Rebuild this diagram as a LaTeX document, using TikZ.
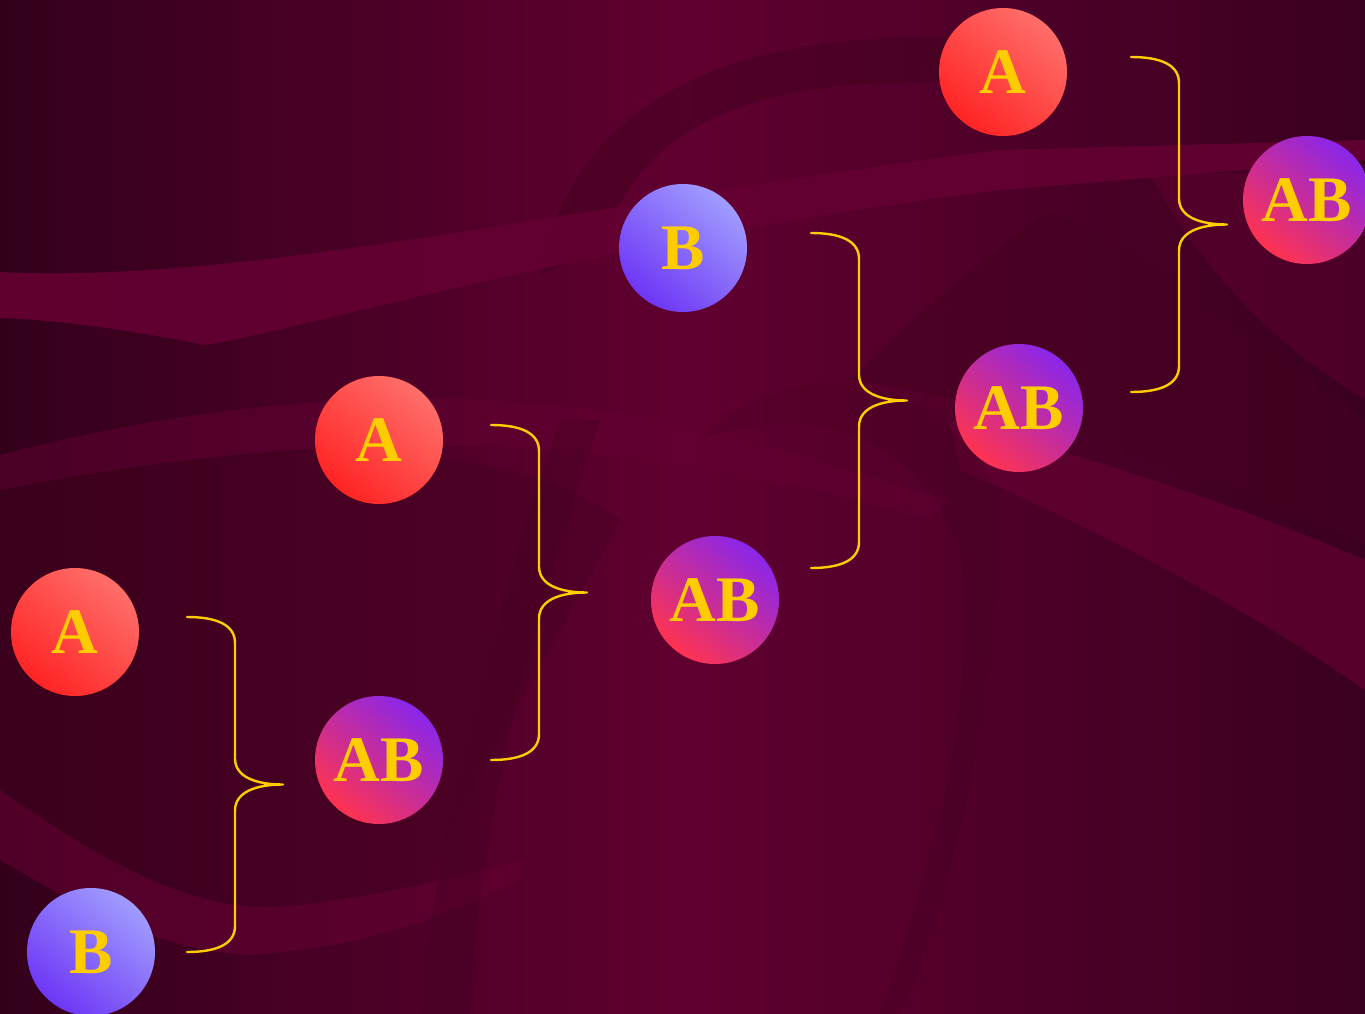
\documentclass[tikz,border=0pt]{standalone}
\usepackage{fontspec}
\setmainfont{Liberation Serif}
\usetikzlibrary{calc}
\definecolor{bgdark}{HTML}{33001A}
\definecolor{bgmid}{HTML}{600030}
\definecolor{bgright}{HTML}{3A001F}
\definecolor{bandlight}{HTML}{640032}
\definecolor{banddark}{HTML}{45001F}
\definecolor{gold}{HTML}{FFCC00}
\definecolor{aLight}{HTML}{FF6E6A}
\definecolor{aDark}{HTML}{FF2424}
\definecolor{bLight}{HTML}{A09CFF}
\definecolor{bDark}{HTML}{6E36F5}
\definecolor{abTop}{HTML}{8A26EA}
\definecolor{abBot}{HTML}{FF3350}
\tikzset{
  ball/.style={circle, minimum size=128pt, inner sep=0pt, text=gold,
    font=\bfseries\fontsize{65}{65}\selectfont},
  aball/.style={ball, bottom color=aDark, top color=aLight, shading angle=-40},
  bball/.style={ball, bottom color=bDark, top color=bLight, shading angle=-40},
  abball/.style={ball, bottom color=abBot, top color=abTop, shading angle=-40},
  bracestyle/.style={draw=gold, line width=2.4pt, line cap=round, line join=round},
  lightband/.style={fill=bandlight, opacity=0.9},
  darkband/.style={fill=banddark, opacity=0.55}
}
\begin{document}
\begin{tikzpicture}[x=1pt,y=-1pt]
\useasboundingbox (0,0) rectangle (1365,1014);
% background
\shade[left color=bgdark, right color=bgright, middle color=bgmid] (0,0) rectangle (1365,1014);
% ribbons
\fill[darkband] (540,275) .. controls (570,120) and (700,20) .. (1000,40)
   -- (1000,85) .. controls (760,70) and (640,120) .. (600,250) -- cycle;
\fill[lightband] (0,272) .. controls (250,285) and (600,200) .. (1000,150)
   -- (1365,140) -- (1365,160) -- (1000,190) .. controls (600,240) and (300,330) .. (205,345)
   .. controls (130,330) and (60,320) .. (0,318) -- cycle;
% dark left-lower area
\fill[darkband, opacity=0.4] (0,490) .. controls (250,440) and (500,430) .. (620,520)
   .. controls (560,640) and (480,760) .. (430,880)
   .. controls (330,930) and (150,900) .. (0,800) -- cycle;
\fill[lightband, opacity=0.5] (0,455) .. controls (250,390) and (500,380) .. (700,430)
   .. controls (800,455) and (880,480) .. (950,500) -- (930,520)
   .. controls (860,500) and (780,480) .. (700,470)
   .. controls (500,430) and (250,440) .. (0,490) -- cycle;
\fill[lightband, opacity=0.6] (0,790) .. controls (100,860) and (200,920) .. (300,905)
   .. controls (380,895) and (450,880) .. (520,860) -- (520,880)
   .. controls (420,930) and (330,950) .. (250,955) .. controls (150,950) and (70,900) .. (0,860) -- cycle;
% right diagonal bands
\fill[darkband, opacity=0.5] (850,380) .. controls (1000,400) and (1200,470) .. (1365,545)
   -- (1365,420) .. controls (1250,330) and (1150,260) .. (1050,210)
   .. controls (980,260) and (900,330) .. (850,380) -- cycle;
\fill[lightband, opacity=0.7] (950,420) .. controls (1100,460) and (1250,510) .. (1365,560)
   -- (1365,690) .. controls (1250,610) and (1100,530) .. (960,470) -- cycle;
\fill[lightband, opacity=0.45] (1150,175) .. controls (1250,170) and (1320,175) .. (1365,180)
   -- (1365,400) .. controls (1300,360) and (1220,300) .. (1150,175) -- cycle;
\fill[darkband, opacity=0.35] (420,1014) .. controls (440,800) and (500,600) .. (560,420)
   -- (600,420) .. controls (540,600) and (480,800) .. (470,1014) -- cycle;
\fill[darkband, opacity=0.25] (700,440) .. controls (800,340) and (950,380) .. (1000,500)
   .. controls (1000,700) and (950,900) .. (900,1014) -- (880,1014)
   .. controls (930,880) and (980,700) .. (960,550) .. controls (920,430) and (800,400) .. (700,440) -- cycle;

% nodes
\node[aball]  (a1)  at (75,632)  {A};
\node[bball]  (b1)  at (91,952)  {B};
\node[abball] (ab1) at (379,760) {AB};
\node[aball]  (a2)  at (379,440) {A};
\node[abball] (ab2) at (715,600) {AB};
\node[bball]  (b2)  at (683,248) {B};
\node[abball] (ab3) at (1019,408) {AB};
\node[aball]  (a3)  at (1003,72) {A};
\node[abball] (ab4) at (1307,200) {AB};

% braces: named end coordinates
\foreach \n/\x/\yt in {1/187/617, 2/491/425, 3/811/233, 4/1131/57}{
  \pgfmathsetmacro{\yb}{\yt+335}
  \pgfmathsetmacro{\ym}{\yt+167.5}
  \pgfmathsetmacro{\xv}{\x+48}
  \pgfmathsetmacro{\xt}{\x+96}
  \coordinate (br\n t) at (\x,\yt);
  \coordinate (br\n b) at (\x,\yb);
  \coordinate (br\n m) at (\xt,\ym);
  \draw[bracestyle] (br\n t) .. controls (\x+30,\yt) and (\xv,\yt+8) .. (\xv,\yt+26)
    -- (\xv,\ym-26) .. controls (\xv,\ym-8) and (\xv+20,\ym) .. (br\n m)
    .. controls (\xv+20,\ym) and (\xv,\ym+8) .. (\xv,\ym+26)
    -- (\xv,\yb-26) .. controls (\xv,\yb-8) and (\x+30,\yb) .. (br\n b);
}
\end{tikzpicture}
\end{document}
